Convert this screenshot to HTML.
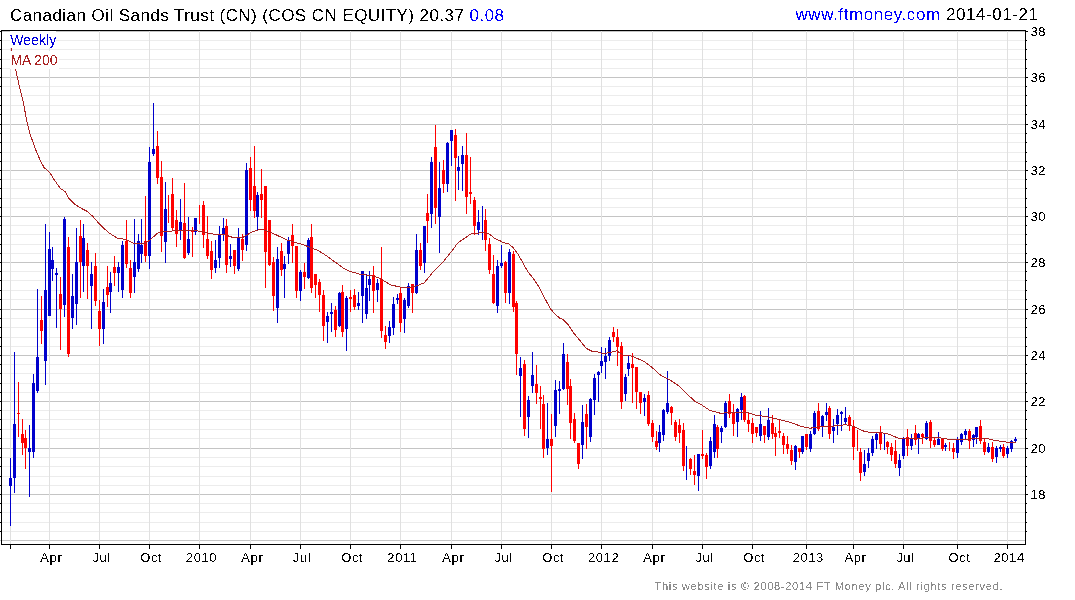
<!DOCTYPE html><html><head><meta charset="utf-8"><style>html,body{margin:0;padding:0;background:#fff;width:1075px;height:600px;overflow:hidden}svg{display:block}text{font-family:"Liberation Sans",Arial,sans-serif}</style></head><body>
<svg width="1075" height="600" viewBox="0 0 1075 600">
<defs><filter id="al" x="0" y="0" width="1" height="1"><feComponentTransfer><feFuncA type="discrete" tableValues="0 1"/></feComponentTransfer></filter></defs>
<rect width="1075" height="600" fill="#fff"/>
<g shape-rendering="crispEdges">
<rect x="2" y="40" width="1023" height="1" fill="#ececec"/>
<rect x="2" y="49" width="1023" height="1" fill="#ececec"/>
<rect x="2" y="59" width="1023" height="1" fill="#ececec"/>
<rect x="2" y="68" width="1023" height="1" fill="#ececec"/>
<rect x="2" y="86" width="1023" height="1" fill="#ececec"/>
<rect x="2" y="95" width="1023" height="1" fill="#ececec"/>
<rect x="2" y="105" width="1023" height="1" fill="#ececec"/>
<rect x="2" y="114" width="1023" height="1" fill="#ececec"/>
<rect x="2" y="133" width="1023" height="1" fill="#ececec"/>
<rect x="2" y="142" width="1023" height="1" fill="#ececec"/>
<rect x="2" y="152" width="1023" height="1" fill="#ececec"/>
<rect x="2" y="161" width="1023" height="1" fill="#ececec"/>
<rect x="2" y="179" width="1023" height="1" fill="#ececec"/>
<rect x="2" y="188" width="1023" height="1" fill="#ececec"/>
<rect x="2" y="198" width="1023" height="1" fill="#ececec"/>
<rect x="2" y="207" width="1023" height="1" fill="#ececec"/>
<rect x="2" y="225" width="1023" height="1" fill="#ececec"/>
<rect x="2" y="234" width="1023" height="1" fill="#ececec"/>
<rect x="2" y="244" width="1023" height="1" fill="#ececec"/>
<rect x="2" y="253" width="1023" height="1" fill="#ececec"/>
<rect x="2" y="271" width="1023" height="1" fill="#ececec"/>
<rect x="2" y="280" width="1023" height="1" fill="#ececec"/>
<rect x="2" y="290" width="1023" height="1" fill="#ececec"/>
<rect x="2" y="299" width="1023" height="1" fill="#ececec"/>
<rect x="2" y="318" width="1023" height="1" fill="#ececec"/>
<rect x="2" y="327" width="1023" height="1" fill="#ececec"/>
<rect x="2" y="337" width="1023" height="1" fill="#ececec"/>
<rect x="2" y="346" width="1023" height="1" fill="#ececec"/>
<rect x="2" y="364" width="1023" height="1" fill="#ececec"/>
<rect x="2" y="373" width="1023" height="1" fill="#ececec"/>
<rect x="2" y="383" width="1023" height="1" fill="#ececec"/>
<rect x="2" y="392" width="1023" height="1" fill="#ececec"/>
<rect x="2" y="410" width="1023" height="1" fill="#ececec"/>
<rect x="2" y="419" width="1023" height="1" fill="#ececec"/>
<rect x="2" y="429" width="1023" height="1" fill="#ececec"/>
<rect x="2" y="438" width="1023" height="1" fill="#ececec"/>
<rect x="2" y="457" width="1023" height="1" fill="#ececec"/>
<rect x="2" y="466" width="1023" height="1" fill="#ececec"/>
<rect x="2" y="476" width="1023" height="1" fill="#ececec"/>
<rect x="2" y="485" width="1023" height="1" fill="#ececec"/>
<rect x="2" y="503" width="1023" height="1" fill="#ececec"/>
<rect x="2" y="512" width="1023" height="1" fill="#ececec"/>
<rect x="2" y="522" width="1023" height="1" fill="#ececec"/>
<rect x="2" y="531" width="1023" height="1" fill="#ececec"/>
<rect x="2" y="31" width="1023" height="1" fill="#c4c4c4"/>
<rect x="2" y="77" width="1023" height="1" fill="#c4c4c4"/>
<rect x="2" y="124" width="1023" height="1" fill="#c4c4c4"/>
<rect x="2" y="170" width="1023" height="1" fill="#c4c4c4"/>
<rect x="2" y="216" width="1023" height="1" fill="#c4c4c4"/>
<rect x="2" y="262" width="1023" height="1" fill="#c4c4c4"/>
<rect x="2" y="309" width="1023" height="1" fill="#c4c4c4"/>
<rect x="2" y="355" width="1023" height="1" fill="#c4c4c4"/>
<rect x="2" y="401" width="1023" height="1" fill="#c4c4c4"/>
<rect x="2" y="448" width="1023" height="1" fill="#c4c4c4"/>
<rect x="2" y="494" width="1023" height="1" fill="#c4c4c4"/>
<rect x="2" y="540" width="1023" height="1" fill="#c4c4c4"/>
<rect x="10" y="31" width="1" height="513" fill="#e0e0e0"/>
<rect x="49" y="31" width="1" height="513" fill="#e0e0e0"/>
<rect x="99" y="31" width="1" height="513" fill="#e0e0e0"/>
<rect x="149" y="31" width="1" height="513" fill="#e0e0e0"/>
<rect x="199" y="31" width="1" height="513" fill="#e0e0e0"/>
<rect x="250" y="31" width="1" height="513" fill="#e0e0e0"/>
<rect x="300" y="31" width="1" height="513" fill="#e0e0e0"/>
<rect x="350" y="31" width="1" height="513" fill="#e0e0e0"/>
<rect x="400" y="31" width="1" height="513" fill="#e0e0e0"/>
<rect x="451" y="31" width="1" height="513" fill="#e0e0e0"/>
<rect x="501" y="31" width="1" height="513" fill="#e0e0e0"/>
<rect x="551" y="31" width="1" height="513" fill="#e0e0e0"/>
<rect x="601" y="31" width="1" height="513" fill="#e0e0e0"/>
<rect x="652" y="31" width="1" height="513" fill="#e0e0e0"/>
<rect x="702" y="31" width="1" height="513" fill="#e0e0e0"/>
<rect x="752" y="31" width="1" height="513" fill="#e0e0e0"/>
<rect x="806" y="31" width="1" height="513" fill="#e0e0e0"/>
<rect x="853" y="31" width="1" height="513" fill="#e0e0e0"/>
<rect x="903" y="31" width="1" height="513" fill="#e0e0e0"/>
<rect x="957" y="31" width="1" height="513" fill="#e0e0e0"/>
<rect x="1007" y="31" width="1" height="513" fill="#e0e0e0"/>
</g>
<g shape-rendering="crispEdges">
<rect x="10" y="458" width="1" height="68" fill="#0000cc"/>
<rect x="9" y="478" width="3" height="8" fill="#0000cc"/>
<rect x="14" y="352" width="1" height="141" fill="#0000cc"/>
<rect x="13" y="424" width="3" height="54" fill="#0000cc"/>
<rect x="18" y="382" width="1" height="55" fill="#ff0000"/>
<rect x="17" y="413" width="3" height="1" fill="#ff0000"/>
<rect x="22" y="419" width="1" height="36" fill="#ff0000"/>
<rect x="21" y="434" width="3" height="9" fill="#ff0000"/>
<rect x="25" y="430" width="1" height="39" fill="#ff0000"/>
<rect x="24" y="438" width="3" height="10" fill="#ff0000"/>
<rect x="29" y="425" width="1" height="72" fill="#0000cc"/>
<rect x="28" y="448" width="3" height="4" fill="#0000cc"/>
<rect x="33" y="374" width="1" height="84" fill="#0000cc"/>
<rect x="32" y="383" width="3" height="69" fill="#0000cc"/>
<rect x="37" y="289" width="1" height="104" fill="#0000cc"/>
<rect x="36" y="357" width="3" height="34" fill="#0000cc"/>
<rect x="41" y="296" width="1" height="48" fill="#ff0000"/>
<rect x="40" y="320" width="3" height="11" fill="#ff0000"/>
<rect x="45" y="224" width="1" height="161" fill="#0000cc"/>
<rect x="44" y="290" width="3" height="71" fill="#0000cc"/>
<rect x="49" y="232" width="1" height="84" fill="#0000cc"/>
<rect x="48" y="249" width="3" height="67" fill="#0000cc"/>
<rect x="52" y="247" width="1" height="34" fill="#0000cc"/>
<rect x="51" y="260" width="3" height="9" fill="#0000cc"/>
<rect x="56" y="268" width="1" height="60" fill="#0000cc"/>
<rect x="55" y="273" width="3" height="2" fill="#0000cc"/>
<rect x="60" y="277" width="1" height="73" fill="#ff0000"/>
<rect x="59" y="294" width="3" height="15" fill="#ff0000"/>
<rect x="64" y="217" width="1" height="100" fill="#0000cc"/>
<rect x="63" y="219" width="3" height="86" fill="#0000cc"/>
<rect x="68" y="237" width="1" height="120" fill="#ff0000"/>
<rect x="67" y="247" width="3" height="107" fill="#ff0000"/>
<rect x="72" y="274" width="1" height="55" fill="#0000cc"/>
<rect x="71" y="296" width="3" height="22" fill="#0000cc"/>
<rect x="76" y="228" width="1" height="97" fill="#0000cc"/>
<rect x="75" y="262" width="3" height="42" fill="#0000cc"/>
<rect x="80" y="220" width="1" height="78" fill="#ff0000"/>
<rect x="79" y="236" width="3" height="26" fill="#ff0000"/>
<rect x="83" y="224" width="1" height="68" fill="#0000cc"/>
<rect x="82" y="238" width="3" height="28" fill="#0000cc"/>
<rect x="87" y="243" width="1" height="56" fill="#ff0000"/>
<rect x="86" y="250" width="3" height="16" fill="#ff0000"/>
<rect x="91" y="262" width="1" height="67" fill="#0000cc"/>
<rect x="90" y="274" width="3" height="12" fill="#0000cc"/>
<rect x="95" y="253" width="1" height="53" fill="#ff0000"/>
<rect x="94" y="266" width="3" height="35" fill="#ff0000"/>
<rect x="99" y="300" width="1" height="46" fill="#ff0000"/>
<rect x="98" y="311" width="3" height="18" fill="#ff0000"/>
<rect x="103" y="289" width="1" height="55" fill="#0000cc"/>
<rect x="102" y="302" width="3" height="27" fill="#0000cc"/>
<rect x="107" y="266" width="1" height="41" fill="#ff0000"/>
<rect x="106" y="287" width="3" height="8" fill="#ff0000"/>
<rect x="110" y="272" width="1" height="41" fill="#0000cc"/>
<rect x="109" y="283" width="3" height="9" fill="#0000cc"/>
<rect x="114" y="256" width="1" height="30" fill="#ff0000"/>
<rect x="113" y="267" width="3" height="6" fill="#ff0000"/>
<rect x="118" y="262" width="1" height="30" fill="#0000cc"/>
<rect x="117" y="267" width="3" height="6" fill="#0000cc"/>
<rect x="122" y="241" width="1" height="57" fill="#0000cc"/>
<rect x="121" y="245" width="3" height="45" fill="#0000cc"/>
<rect x="126" y="220" width="1" height="48" fill="#ff0000"/>
<rect x="125" y="241" width="3" height="23" fill="#ff0000"/>
<rect x="130" y="260" width="1" height="38" fill="#ff0000"/>
<rect x="129" y="268" width="3" height="25" fill="#ff0000"/>
<rect x="134" y="219" width="1" height="74" fill="#0000cc"/>
<rect x="133" y="262" width="3" height="15" fill="#0000cc"/>
<rect x="138" y="234" width="1" height="38" fill="#0000cc"/>
<rect x="137" y="241" width="3" height="28" fill="#0000cc"/>
<rect x="141" y="219" width="1" height="44" fill="#0000cc"/>
<rect x="140" y="245" width="3" height="9" fill="#0000cc"/>
<rect x="145" y="196" width="1" height="66" fill="#ff0000"/>
<rect x="144" y="241" width="3" height="15" fill="#ff0000"/>
<rect x="149" y="147" width="1" height="122" fill="#0000cc"/>
<rect x="148" y="162" width="3" height="94" fill="#0000cc"/>
<rect x="153" y="103" width="1" height="53" fill="#0000cc"/>
<rect x="152" y="149" width="3" height="5" fill="#0000cc"/>
<rect x="157" y="131" width="1" height="53" fill="#ff0000"/>
<rect x="156" y="146" width="3" height="32" fill="#ff0000"/>
<rect x="161" y="161" width="1" height="91" fill="#ff0000"/>
<rect x="160" y="177" width="3" height="59" fill="#ff0000"/>
<rect x="165" y="182" width="1" height="81" fill="#0000cc"/>
<rect x="164" y="209" width="3" height="33" fill="#0000cc"/>
<rect x="168" y="195" width="1" height="28" fill="#ff0000"/>
<rect x="172" y="178" width="1" height="53" fill="#ff0000"/>
<rect x="171" y="194" width="3" height="34" fill="#ff0000"/>
<rect x="176" y="210" width="1" height="37" fill="#ff0000"/>
<rect x="175" y="220" width="3" height="14" fill="#ff0000"/>
<rect x="180" y="199" width="1" height="41" fill="#0000cc"/>
<rect x="179" y="222" width="3" height="8" fill="#0000cc"/>
<rect x="184" y="183" width="1" height="76" fill="#ff0000"/>
<rect x="183" y="223" width="3" height="35" fill="#ff0000"/>
<rect x="188" y="217" width="1" height="38" fill="#0000cc"/>
<rect x="187" y="239" width="3" height="14" fill="#0000cc"/>
<rect x="192" y="227" width="1" height="30" fill="#ff0000"/>
<rect x="191" y="230" width="3" height="2" fill="#ff0000"/>
<rect x="195" y="218" width="1" height="17" fill="#0000cc"/>
<rect x="194" y="218" width="3" height="14" fill="#0000cc"/>
<rect x="199" y="205" width="1" height="19" fill="#ff0000"/>
<rect x="203" y="201" width="1" height="47" fill="#ff0000"/>
<rect x="202" y="205" width="3" height="30" fill="#ff0000"/>
<rect x="207" y="216" width="1" height="43" fill="#ff0000"/>
<rect x="206" y="239" width="3" height="17" fill="#ff0000"/>
<rect x="211" y="241" width="1" height="38" fill="#ff0000"/>
<rect x="210" y="251" width="3" height="19" fill="#ff0000"/>
<rect x="215" y="240" width="1" height="33" fill="#0000cc"/>
<rect x="214" y="260" width="3" height="8" fill="#0000cc"/>
<rect x="219" y="226" width="1" height="42" fill="#0000cc"/>
<rect x="218" y="235" width="3" height="23" fill="#0000cc"/>
<rect x="223" y="218" width="1" height="23" fill="#0000cc"/>
<rect x="222" y="228" width="3" height="7" fill="#0000cc"/>
<rect x="226" y="219" width="1" height="54" fill="#ff0000"/>
<rect x="225" y="226" width="3" height="39" fill="#ff0000"/>
<rect x="230" y="244" width="1" height="23" fill="#0000cc"/>
<rect x="229" y="256" width="3" height="3" fill="#0000cc"/>
<rect x="234" y="250" width="1" height="24" fill="#ff0000"/>
<rect x="233" y="250" width="3" height="16" fill="#ff0000"/>
<rect x="238" y="228" width="1" height="43" fill="#0000cc"/>
<rect x="237" y="237" width="3" height="32" fill="#0000cc"/>
<rect x="242" y="234" width="1" height="27" fill="#ff0000"/>
<rect x="241" y="239" width="3" height="11" fill="#ff0000"/>
<rect x="246" y="163" width="1" height="88" fill="#0000cc"/>
<rect x="245" y="170" width="3" height="75" fill="#0000cc"/>
<rect x="250" y="157" width="1" height="54" fill="#ff0000"/>
<rect x="249" y="168" width="3" height="32" fill="#ff0000"/>
<rect x="254" y="146" width="1" height="72" fill="#ff0000"/>
<rect x="253" y="186" width="3" height="25" fill="#ff0000"/>
<rect x="257" y="192" width="1" height="38" fill="#0000cc"/>
<rect x="256" y="195" width="3" height="22" fill="#0000cc"/>
<rect x="261" y="169" width="1" height="49" fill="#ff0000"/>
<rect x="260" y="194" width="3" height="6" fill="#ff0000"/>
<rect x="265" y="186" width="1" height="102" fill="#ff0000"/>
<rect x="264" y="186" width="3" height="66" fill="#ff0000"/>
<rect x="269" y="220" width="1" height="46" fill="#ff0000"/>
<rect x="268" y="220" width="3" height="45" fill="#ff0000"/>
<rect x="273" y="257" width="1" height="54" fill="#ff0000"/>
<rect x="272" y="262" width="3" height="34" fill="#ff0000"/>
<rect x="277" y="247" width="1" height="76" fill="#0000cc"/>
<rect x="276" y="259" width="3" height="49" fill="#0000cc"/>
<rect x="281" y="243" width="1" height="33" fill="#ff0000"/>
<rect x="280" y="251" width="3" height="19" fill="#ff0000"/>
<rect x="284" y="256" width="1" height="42" fill="#0000cc"/>
<rect x="283" y="264" width="3" height="5" fill="#0000cc"/>
<rect x="288" y="237" width="1" height="27" fill="#0000cc"/>
<rect x="287" y="241" width="3" height="13" fill="#0000cc"/>
<rect x="292" y="224" width="1" height="39" fill="#ff0000"/>
<rect x="291" y="235" width="3" height="11" fill="#ff0000"/>
<rect x="296" y="246" width="1" height="52" fill="#ff0000"/>
<rect x="295" y="246" width="3" height="45" fill="#ff0000"/>
<rect x="300" y="270" width="1" height="31" fill="#0000cc"/>
<rect x="299" y="272" width="3" height="19" fill="#0000cc"/>
<rect x="304" y="263" width="1" height="26" fill="#ff0000"/>
<rect x="303" y="272" width="3" height="5" fill="#ff0000"/>
<rect x="308" y="238" width="1" height="41" fill="#0000cc"/>
<rect x="307" y="240" width="3" height="38" fill="#0000cc"/>
<rect x="311" y="224" width="1" height="69" fill="#ff0000"/>
<rect x="310" y="237" width="3" height="51" fill="#ff0000"/>
<rect x="315" y="274" width="1" height="24" fill="#ff0000"/>
<rect x="314" y="274" width="3" height="11" fill="#ff0000"/>
<rect x="319" y="279" width="1" height="33" fill="#ff0000"/>
<rect x="318" y="282" width="3" height="13" fill="#ff0000"/>
<rect x="323" y="290" width="1" height="51" fill="#ff0000"/>
<rect x="322" y="295" width="3" height="31" fill="#ff0000"/>
<rect x="327" y="312" width="1" height="31" fill="#0000cc"/>
<rect x="326" y="316" width="3" height="6" fill="#0000cc"/>
<rect x="331" y="303" width="1" height="29" fill="#0000cc"/>
<rect x="330" y="312" width="3" height="2" fill="#0000cc"/>
<rect x="335" y="306" width="1" height="31" fill="#ff0000"/>
<rect x="334" y="310" width="3" height="20" fill="#ff0000"/>
<rect x="339" y="292" width="1" height="35" fill="#0000cc"/>
<rect x="338" y="293" width="3" height="33" fill="#0000cc"/>
<rect x="342" y="285" width="1" height="52" fill="#ff0000"/>
<rect x="341" y="292" width="3" height="40" fill="#ff0000"/>
<rect x="346" y="296" width="1" height="55" fill="#0000cc"/>
<rect x="345" y="298" width="3" height="31" fill="#0000cc"/>
<rect x="350" y="290" width="1" height="22" fill="#ff0000"/>
<rect x="349" y="297" width="3" height="2" fill="#ff0000"/>
<rect x="354" y="289" width="1" height="21" fill="#ff0000"/>
<rect x="353" y="295" width="3" height="12" fill="#ff0000"/>
<rect x="358" y="292" width="1" height="18" fill="#0000cc"/>
<rect x="357" y="303" width="3" height="3" fill="#0000cc"/>
<rect x="362" y="271" width="1" height="52" fill="#0000cc"/>
<rect x="361" y="271" width="3" height="25" fill="#0000cc"/>
<rect x="366" y="274" width="1" height="45" fill="#0000cc"/>
<rect x="365" y="288" width="3" height="26" fill="#0000cc"/>
<rect x="369" y="271" width="1" height="30" fill="#0000cc"/>
<rect x="368" y="279" width="3" height="6" fill="#0000cc"/>
<rect x="373" y="266" width="1" height="47" fill="#ff0000"/>
<rect x="372" y="275" width="3" height="16" fill="#ff0000"/>
<rect x="377" y="279" width="1" height="23" fill="#0000cc"/>
<rect x="376" y="283" width="3" height="7" fill="#0000cc"/>
<rect x="381" y="247" width="1" height="91" fill="#ff0000"/>
<rect x="380" y="279" width="3" height="52" fill="#ff0000"/>
<rect x="385" y="326" width="1" height="23" fill="#ff0000"/>
<rect x="384" y="335" width="3" height="7" fill="#ff0000"/>
<rect x="389" y="321" width="1" height="22" fill="#0000cc"/>
<rect x="388" y="327" width="3" height="9" fill="#0000cc"/>
<rect x="393" y="297" width="1" height="38" fill="#0000cc"/>
<rect x="392" y="304" width="3" height="24" fill="#0000cc"/>
<rect x="397" y="294" width="1" height="10" fill="#0000cc"/>
<rect x="396" y="298" width="3" height="2" fill="#0000cc"/>
<rect x="400" y="287" width="1" height="45" fill="#ff0000"/>
<rect x="399" y="293" width="3" height="30" fill="#ff0000"/>
<rect x="404" y="298" width="1" height="35" fill="#0000cc"/>
<rect x="403" y="300" width="3" height="19" fill="#0000cc"/>
<rect x="408" y="283" width="1" height="25" fill="#0000cc"/>
<rect x="407" y="286" width="3" height="20" fill="#0000cc"/>
<rect x="412" y="284" width="1" height="29" fill="#ff0000"/>
<rect x="411" y="284" width="3" height="9" fill="#ff0000"/>
<rect x="416" y="234" width="1" height="60" fill="#0000cc"/>
<rect x="415" y="250" width="3" height="43" fill="#0000cc"/>
<rect x="420" y="243" width="1" height="27" fill="#ff0000"/>
<rect x="419" y="250" width="3" height="16" fill="#ff0000"/>
<rect x="424" y="226" width="1" height="47" fill="#0000cc"/>
<rect x="423" y="226" width="3" height="37" fill="#0000cc"/>
<rect x="427" y="194" width="1" height="49" fill="#ff0000"/>
<rect x="426" y="213" width="3" height="8" fill="#ff0000"/>
<rect x="431" y="157" width="1" height="71" fill="#0000cc"/>
<rect x="430" y="162" width="3" height="52" fill="#0000cc"/>
<rect x="435" y="125" width="1" height="99" fill="#ff0000"/>
<rect x="434" y="147" width="3" height="61" fill="#ff0000"/>
<rect x="439" y="162" width="1" height="91" fill="#0000cc"/>
<rect x="438" y="188" width="3" height="29" fill="#0000cc"/>
<rect x="443" y="160" width="1" height="33" fill="#ff0000"/>
<rect x="442" y="170" width="3" height="14" fill="#ff0000"/>
<rect x="447" y="142" width="1" height="50" fill="#0000cc"/>
<rect x="446" y="143" width="3" height="41" fill="#0000cc"/>
<rect x="451" y="130" width="1" height="36" fill="#0000cc"/>
<rect x="450" y="130" width="3" height="11" fill="#0000cc"/>
<rect x="455" y="129" width="1" height="72" fill="#ff0000"/>
<rect x="454" y="135" width="3" height="23" fill="#ff0000"/>
<rect x="458" y="156" width="1" height="34" fill="#0000cc"/>
<rect x="457" y="167" width="3" height="4" fill="#0000cc"/>
<rect x="462" y="146" width="1" height="45" fill="#0000cc"/>
<rect x="461" y="155" width="3" height="9" fill="#0000cc"/>
<rect x="466" y="133" width="1" height="81" fill="#ff0000"/>
<rect x="465" y="155" width="3" height="42" fill="#ff0000"/>
<rect x="470" y="157" width="1" height="47" fill="#ff0000"/>
<rect x="469" y="192" width="3" height="2" fill="#ff0000"/>
<rect x="474" y="197" width="1" height="38" fill="#ff0000"/>
<rect x="473" y="200" width="3" height="26" fill="#ff0000"/>
<rect x="478" y="210" width="1" height="25" fill="#0000cc"/>
<rect x="477" y="222" width="3" height="8" fill="#0000cc"/>
<rect x="482" y="206" width="1" height="34" fill="#0000cc"/>
<rect x="485" y="209" width="1" height="42" fill="#ff0000"/>
<rect x="484" y="220" width="3" height="20" fill="#ff0000"/>
<rect x="489" y="238" width="1" height="36" fill="#ff0000"/>
<rect x="488" y="244" width="3" height="26" fill="#ff0000"/>
<rect x="493" y="255" width="1" height="49" fill="#ff0000"/>
<rect x="492" y="274" width="3" height="29" fill="#ff0000"/>
<rect x="497" y="260" width="1" height="53" fill="#0000cc"/>
<rect x="496" y="266" width="3" height="40" fill="#0000cc"/>
<rect x="501" y="245" width="1" height="23" fill="#0000cc"/>
<rect x="500" y="263" width="3" height="3" fill="#0000cc"/>
<rect x="505" y="261" width="1" height="42" fill="#ff0000"/>
<rect x="504" y="262" width="3" height="31" fill="#ff0000"/>
<rect x="509" y="249" width="1" height="55" fill="#0000cc"/>
<rect x="508" y="252" width="3" height="41" fill="#0000cc"/>
<rect x="513" y="251" width="1" height="61" fill="#ff0000"/>
<rect x="512" y="254" width="3" height="53" fill="#ff0000"/>
<rect x="516" y="301" width="1" height="74" fill="#ff0000"/>
<rect x="515" y="303" width="3" height="51" fill="#ff0000"/>
<rect x="520" y="357" width="1" height="60" fill="#0000cc"/>
<rect x="519" y="368" width="3" height="8" fill="#0000cc"/>
<rect x="524" y="360" width="1" height="76" fill="#ff0000"/>
<rect x="523" y="364" width="3" height="65" fill="#ff0000"/>
<rect x="528" y="396" width="1" height="42" fill="#0000cc"/>
<rect x="527" y="400" width="3" height="17" fill="#0000cc"/>
<rect x="532" y="352" width="1" height="41" fill="#0000cc"/>
<rect x="531" y="375" width="3" height="11" fill="#0000cc"/>
<rect x="536" y="365" width="1" height="39" fill="#ff0000"/>
<rect x="535" y="384" width="3" height="9" fill="#ff0000"/>
<rect x="540" y="386" width="1" height="43" fill="#ff0000"/>
<rect x="539" y="397" width="3" height="2" fill="#ff0000"/>
<rect x="543" y="395" width="1" height="63" fill="#ff0000"/>
<rect x="542" y="404" width="3" height="45" fill="#ff0000"/>
<rect x="547" y="403" width="1" height="52" fill="#0000cc"/>
<rect x="546" y="439" width="3" height="9" fill="#0000cc"/>
<rect x="551" y="414" width="1" height="78" fill="#ff0000"/>
<rect x="550" y="439" width="3" height="7" fill="#ff0000"/>
<rect x="555" y="380" width="1" height="57" fill="#0000cc"/>
<rect x="554" y="390" width="3" height="36" fill="#0000cc"/>
<rect x="559" y="381" width="1" height="33" fill="#0000cc"/>
<rect x="558" y="389" width="3" height="2" fill="#0000cc"/>
<rect x="563" y="343" width="1" height="47" fill="#0000cc"/>
<rect x="562" y="354" width="3" height="35" fill="#0000cc"/>
<rect x="567" y="354" width="1" height="51" fill="#ff0000"/>
<rect x="566" y="362" width="3" height="27" fill="#ff0000"/>
<rect x="570" y="379" width="1" height="60" fill="#ff0000"/>
<rect x="569" y="386" width="3" height="37" fill="#ff0000"/>
<rect x="574" y="413" width="1" height="30" fill="#ff0000"/>
<rect x="573" y="419" width="3" height="22" fill="#ff0000"/>
<rect x="578" y="443" width="1" height="26" fill="#ff0000"/>
<rect x="577" y="443" width="3" height="21" fill="#ff0000"/>
<rect x="582" y="405" width="1" height="54" fill="#0000cc"/>
<rect x="581" y="422" width="3" height="23" fill="#0000cc"/>
<rect x="586" y="404" width="1" height="45" fill="#ff0000"/>
<rect x="585" y="414" width="3" height="13" fill="#ff0000"/>
<rect x="590" y="398" width="1" height="44" fill="#0000cc"/>
<rect x="589" y="399" width="3" height="38" fill="#0000cc"/>
<rect x="594" y="374" width="1" height="41" fill="#0000cc"/>
<rect x="593" y="378" width="3" height="22" fill="#0000cc"/>
<rect x="598" y="371" width="1" height="31" fill="#0000cc"/>
<rect x="597" y="372" width="3" height="3" fill="#0000cc"/>
<rect x="601" y="347" width="1" height="26" fill="#0000cc"/>
<rect x="600" y="361" width="3" height="5" fill="#0000cc"/>
<rect x="605" y="348" width="1" height="31" fill="#0000cc"/>
<rect x="604" y="356" width="3" height="6" fill="#0000cc"/>
<rect x="609" y="337" width="1" height="24" fill="#0000cc"/>
<rect x="608" y="340" width="3" height="16" fill="#0000cc"/>
<rect x="613" y="327" width="1" height="15" fill="#ff0000"/>
<rect x="612" y="332" width="3" height="5" fill="#ff0000"/>
<rect x="617" y="329" width="1" height="37" fill="#ff0000"/>
<rect x="616" y="337" width="3" height="10" fill="#ff0000"/>
<rect x="621" y="342" width="1" height="67" fill="#ff0000"/>
<rect x="620" y="346" width="3" height="56" fill="#ff0000"/>
<rect x="625" y="374" width="1" height="27" fill="#0000cc"/>
<rect x="624" y="377" width="3" height="17" fill="#0000cc"/>
<rect x="628" y="356" width="1" height="20" fill="#0000cc"/>
<rect x="627" y="363" width="3" height="6" fill="#0000cc"/>
<rect x="632" y="353" width="1" height="50" fill="#ff0000"/>
<rect x="631" y="364" width="3" height="4" fill="#ff0000"/>
<rect x="636" y="367" width="1" height="42" fill="#ff0000"/>
<rect x="635" y="367" width="3" height="25" fill="#ff0000"/>
<rect x="640" y="392" width="1" height="22" fill="#ff0000"/>
<rect x="639" y="392" width="3" height="11" fill="#ff0000"/>
<rect x="644" y="394" width="1" height="22" fill="#0000cc"/>
<rect x="643" y="398" width="3" height="4" fill="#0000cc"/>
<rect x="648" y="391" width="1" height="35" fill="#ff0000"/>
<rect x="647" y="395" width="3" height="29" fill="#ff0000"/>
<rect x="652" y="420" width="1" height="22" fill="#ff0000"/>
<rect x="651" y="423" width="3" height="14" fill="#ff0000"/>
<rect x="656" y="431" width="1" height="19" fill="#ff0000"/>
<rect x="655" y="441" width="3" height="6" fill="#ff0000"/>
<rect x="659" y="425" width="1" height="27" fill="#0000cc"/>
<rect x="658" y="432" width="3" height="11" fill="#0000cc"/>
<rect x="663" y="409" width="1" height="32" fill="#0000cc"/>
<rect x="662" y="410" width="3" height="25" fill="#0000cc"/>
<rect x="667" y="371" width="1" height="43" fill="#0000cc"/>
<rect x="666" y="403" width="3" height="9" fill="#0000cc"/>
<rect x="671" y="406" width="1" height="19" fill="#ff0000"/>
<rect x="670" y="407" width="3" height="6" fill="#ff0000"/>
<rect x="675" y="420" width="1" height="21" fill="#ff0000"/>
<rect x="674" y="422" width="3" height="15" fill="#ff0000"/>
<rect x="679" y="419" width="1" height="24" fill="#ff0000"/>
<rect x="678" y="425" width="3" height="8" fill="#ff0000"/>
<rect x="683" y="423" width="1" height="48" fill="#ff0000"/>
<rect x="682" y="430" width="3" height="36" fill="#ff0000"/>
<rect x="686" y="446" width="1" height="34" fill="#0000cc"/>
<rect x="690" y="458" width="1" height="17" fill="#ff0000"/>
<rect x="689" y="459" width="3" height="10" fill="#ff0000"/>
<rect x="694" y="455" width="1" height="30" fill="#ff0000"/>
<rect x="693" y="471" width="3" height="4" fill="#ff0000"/>
<rect x="698" y="454" width="1" height="37" fill="#0000cc"/>
<rect x="697" y="454" width="3" height="22" fill="#0000cc"/>
<rect x="702" y="430" width="1" height="29" fill="#ff0000"/>
<rect x="701" y="454" width="3" height="2" fill="#ff0000"/>
<rect x="706" y="453" width="1" height="26" fill="#ff0000"/>
<rect x="705" y="455" width="3" height="12" fill="#ff0000"/>
<rect x="710" y="437" width="1" height="32" fill="#0000cc"/>
<rect x="709" y="441" width="3" height="25" fill="#0000cc"/>
<rect x="714" y="415" width="1" height="43" fill="#0000cc"/>
<rect x="713" y="424" width="3" height="28" fill="#0000cc"/>
<rect x="717" y="425" width="1" height="33" fill="#ff0000"/>
<rect x="716" y="427" width="3" height="22" fill="#ff0000"/>
<rect x="721" y="426" width="1" height="17" fill="#0000cc"/>
<rect x="720" y="428" width="3" height="4" fill="#0000cc"/>
<rect x="725" y="401" width="1" height="27" fill="#0000cc"/>
<rect x="724" y="403" width="3" height="24" fill="#0000cc"/>
<rect x="729" y="394" width="1" height="24" fill="#ff0000"/>
<rect x="728" y="401" width="3" height="13" fill="#ff0000"/>
<rect x="733" y="404" width="1" height="32" fill="#ff0000"/>
<rect x="732" y="413" width="3" height="11" fill="#ff0000"/>
<rect x="737" y="408" width="1" height="29" fill="#0000cc"/>
<rect x="736" y="409" width="3" height="13" fill="#0000cc"/>
<rect x="741" y="393" width="1" height="27" fill="#0000cc"/>
<rect x="740" y="397" width="3" height="13" fill="#0000cc"/>
<rect x="744" y="395" width="1" height="27" fill="#ff0000"/>
<rect x="743" y="396" width="3" height="24" fill="#ff0000"/>
<rect x="748" y="413" width="1" height="19" fill="#ff0000"/>
<rect x="747" y="420" width="3" height="4" fill="#ff0000"/>
<rect x="752" y="418" width="1" height="25" fill="#ff0000"/>
<rect x="751" y="423" width="3" height="11" fill="#ff0000"/>
<rect x="756" y="427" width="1" height="10" fill="#ff0000"/>
<rect x="755" y="427" width="3" height="6" fill="#ff0000"/>
<rect x="760" y="411" width="1" height="30" fill="#0000cc"/>
<rect x="759" y="424" width="3" height="12" fill="#0000cc"/>
<rect x="764" y="426" width="1" height="17" fill="#ff0000"/>
<rect x="763" y="426" width="3" height="9" fill="#ff0000"/>
<rect x="768" y="408" width="1" height="32" fill="#0000cc"/>
<rect x="767" y="420" width="3" height="17" fill="#0000cc"/>
<rect x="772" y="415" width="1" height="24" fill="#ff0000"/>
<rect x="771" y="423" width="3" height="11" fill="#ff0000"/>
<rect x="775" y="427" width="1" height="29" fill="#ff0000"/>
<rect x="774" y="433" width="3" height="4" fill="#ff0000"/>
<rect x="779" y="420" width="1" height="18" fill="#ff0000"/>
<rect x="778" y="431" width="3" height="2" fill="#ff0000"/>
<rect x="783" y="433" width="1" height="21" fill="#ff0000"/>
<rect x="782" y="436" width="3" height="9" fill="#ff0000"/>
<rect x="787" y="436" width="1" height="18" fill="#ff0000"/>
<rect x="786" y="444" width="3" height="5" fill="#ff0000"/>
<rect x="791" y="445" width="1" height="20" fill="#ff0000"/>
<rect x="790" y="450" width="3" height="11" fill="#ff0000"/>
<rect x="795" y="445" width="1" height="25" fill="#0000cc"/>
<rect x="794" y="446" width="3" height="16" fill="#0000cc"/>
<rect x="799" y="448" width="1" height="10" fill="#ff0000"/>
<rect x="798" y="448" width="3" height="4" fill="#ff0000"/>
<rect x="802" y="436" width="1" height="18" fill="#0000cc"/>
<rect x="801" y="436" width="3" height="16" fill="#0000cc"/>
<rect x="806" y="434" width="1" height="16" fill="#ff0000"/>
<rect x="805" y="434" width="3" height="13" fill="#ff0000"/>
<rect x="810" y="431" width="1" height="21" fill="#0000cc"/>
<rect x="809" y="434" width="3" height="15" fill="#0000cc"/>
<rect x="814" y="411" width="1" height="24" fill="#0000cc"/>
<rect x="813" y="413" width="3" height="21" fill="#0000cc"/>
<rect x="818" y="403" width="1" height="28" fill="#ff0000"/>
<rect x="817" y="411" width="3" height="18" fill="#ff0000"/>
<rect x="822" y="415" width="1" height="22" fill="#0000cc"/>
<rect x="821" y="416" width="3" height="11" fill="#0000cc"/>
<rect x="826" y="403" width="1" height="18" fill="#0000cc"/>
<rect x="825" y="412" width="3" height="3" fill="#0000cc"/>
<rect x="829" y="406" width="1" height="33" fill="#ff0000"/>
<rect x="828" y="408" width="3" height="26" fill="#ff0000"/>
<rect x="833" y="419" width="1" height="24" fill="#0000cc"/>
<rect x="832" y="427" width="3" height="4" fill="#0000cc"/>
<rect x="837" y="409" width="1" height="26" fill="#0000cc"/>
<rect x="836" y="415" width="3" height="9" fill="#0000cc"/>
<rect x="841" y="411" width="1" height="20" fill="#0000cc"/>
<rect x="840" y="412" width="3" height="2" fill="#0000cc"/>
<rect x="845" y="407" width="1" height="17" fill="#0000cc"/>
<rect x="844" y="418" width="3" height="4" fill="#0000cc"/>
<rect x="849" y="415" width="1" height="16" fill="#ff0000"/>
<rect x="848" y="417" width="3" height="9" fill="#ff0000"/>
<rect x="853" y="420" width="1" height="40" fill="#ff0000"/>
<rect x="852" y="427" width="3" height="20" fill="#ff0000"/>
<rect x="857" y="430" width="1" height="21" fill="#ff0000"/>
<rect x="860" y="448" width="1" height="33" fill="#ff0000"/>
<rect x="859" y="452" width="3" height="21" fill="#ff0000"/>
<rect x="864" y="450" width="1" height="26" fill="#0000cc"/>
<rect x="863" y="464" width="3" height="8" fill="#0000cc"/>
<rect x="868" y="448" width="1" height="20" fill="#0000cc"/>
<rect x="867" y="453" width="3" height="8" fill="#0000cc"/>
<rect x="872" y="436" width="1" height="20" fill="#0000cc"/>
<rect x="871" y="439" width="3" height="14" fill="#0000cc"/>
<rect x="876" y="433" width="1" height="16" fill="#0000cc"/>
<rect x="875" y="434" width="3" height="6" fill="#0000cc"/>
<rect x="880" y="426" width="1" height="24" fill="#ff0000"/>
<rect x="879" y="433" width="3" height="11" fill="#ff0000"/>
<rect x="884" y="433" width="1" height="17" fill="#0000cc"/>
<rect x="887" y="441" width="1" height="13" fill="#ff0000"/>
<rect x="886" y="442" width="3" height="5" fill="#ff0000"/>
<rect x="891" y="443" width="1" height="18" fill="#ff0000"/>
<rect x="890" y="447" width="3" height="8" fill="#ff0000"/>
<rect x="895" y="440" width="1" height="28" fill="#ff0000"/>
<rect x="894" y="451" width="3" height="13" fill="#ff0000"/>
<rect x="899" y="454" width="1" height="22" fill="#0000cc"/>
<rect x="898" y="460" width="3" height="8" fill="#0000cc"/>
<rect x="903" y="437" width="1" height="22" fill="#0000cc"/>
<rect x="902" y="439" width="3" height="17" fill="#0000cc"/>
<rect x="907" y="429" width="1" height="27" fill="#ff0000"/>
<rect x="906" y="437" width="3" height="9" fill="#ff0000"/>
<rect x="911" y="434" width="1" height="16" fill="#0000cc"/>
<rect x="910" y="439" width="3" height="7" fill="#0000cc"/>
<rect x="915" y="425" width="1" height="20" fill="#ff0000"/>
<rect x="914" y="433" width="3" height="7" fill="#ff0000"/>
<rect x="918" y="433" width="1" height="21" fill="#0000cc"/>
<rect x="917" y="434" width="3" height="5" fill="#0000cc"/>
<rect x="922" y="433" width="1" height="11" fill="#ff0000"/>
<rect x="921" y="434" width="3" height="3" fill="#ff0000"/>
<rect x="926" y="421" width="1" height="19" fill="#0000cc"/>
<rect x="925" y="423" width="3" height="16" fill="#0000cc"/>
<rect x="930" y="420" width="1" height="28" fill="#ff0000"/>
<rect x="929" y="422" width="3" height="19" fill="#ff0000"/>
<rect x="934" y="438" width="1" height="9" fill="#ff0000"/>
<rect x="933" y="440" width="3" height="5" fill="#ff0000"/>
<rect x="938" y="432" width="1" height="13" fill="#0000cc"/>
<rect x="937" y="439" width="3" height="6" fill="#0000cc"/>
<rect x="942" y="438" width="1" height="13" fill="#ff0000"/>
<rect x="941" y="439" width="3" height="10" fill="#ff0000"/>
<rect x="945" y="443" width="1" height="8" fill="#0000cc"/>
<rect x="944" y="445" width="3" height="2" fill="#0000cc"/>
<rect x="949" y="442" width="1" height="9" fill="#ff0000"/>
<rect x="953" y="443" width="1" height="16" fill="#ff0000"/>
<rect x="952" y="448" width="3" height="4" fill="#ff0000"/>
<rect x="957" y="437" width="1" height="21" fill="#0000cc"/>
<rect x="956" y="440" width="3" height="13" fill="#0000cc"/>
<rect x="961" y="433" width="1" height="12" fill="#0000cc"/>
<rect x="960" y="434" width="3" height="8" fill="#0000cc"/>
<rect x="965" y="429" width="1" height="11" fill="#0000cc"/>
<rect x="964" y="431" width="3" height="4" fill="#0000cc"/>
<rect x="969" y="429" width="1" height="20" fill="#ff0000"/>
<rect x="968" y="431" width="3" height="10" fill="#ff0000"/>
<rect x="973" y="434" width="1" height="13" fill="#0000cc"/>
<rect x="972" y="435" width="3" height="5" fill="#0000cc"/>
<rect x="976" y="427" width="1" height="17" fill="#0000cc"/>
<rect x="975" y="427" width="3" height="10" fill="#0000cc"/>
<rect x="980" y="420" width="1" height="24" fill="#ff0000"/>
<rect x="979" y="426" width="3" height="15" fill="#ff0000"/>
<rect x="984" y="438" width="1" height="17" fill="#ff0000"/>
<rect x="983" y="442" width="3" height="10" fill="#ff0000"/>
<rect x="988" y="443" width="1" height="10" fill="#0000cc"/>
<rect x="987" y="447" width="3" height="5" fill="#0000cc"/>
<rect x="992" y="442" width="1" height="20" fill="#ff0000"/>
<rect x="991" y="447" width="3" height="12" fill="#ff0000"/>
<rect x="996" y="446" width="1" height="17" fill="#0000cc"/>
<rect x="995" y="448" width="3" height="9" fill="#0000cc"/>
<rect x="1000" y="445" width="1" height="7" fill="#0000cc"/>
<rect x="999" y="447" width="3" height="2" fill="#0000cc"/>
<rect x="1003" y="444" width="1" height="14" fill="#ff0000"/>
<rect x="1002" y="447" width="3" height="9" fill="#ff0000"/>
<rect x="1007" y="446" width="1" height="12" fill="#0000cc"/>
<rect x="1006" y="448" width="3" height="6" fill="#0000cc"/>
<rect x="1011" y="440" width="1" height="12" fill="#0000cc"/>
<rect x="1010" y="441" width="3" height="8" fill="#0000cc"/>
<rect x="1015" y="437" width="1" height="6" fill="#0000cc"/>
<rect x="1014" y="439" width="3" height="2" fill="#0000cc"/>
</g>
<g shape-rendering="crispEdges" fill="#000">
<rect x="1" y="30" width="1025" height="1"/>
<rect x="1" y="544" width="1025" height="1"/>
<rect x="1" y="30" width="1" height="515"/>
<rect x="1025" y="30" width="1" height="515"/>
<rect x="1026" y="31" width="2" height="1"/>
<rect x="0" y="31" width="1" height="1"/>
<rect x="1026" y="40" width="1" height="1"/>
<rect x="0" y="40" width="1" height="1"/>
<rect x="1026" y="49" width="1" height="1"/>
<rect x="0" y="49" width="1" height="1"/>
<rect x="1026" y="59" width="1" height="1"/>
<rect x="0" y="59" width="1" height="1"/>
<rect x="1026" y="68" width="1" height="1"/>
<rect x="0" y="68" width="1" height="1"/>
<rect x="1026" y="77" width="2" height="1"/>
<rect x="0" y="77" width="1" height="1"/>
<rect x="1026" y="86" width="1" height="1"/>
<rect x="0" y="86" width="1" height="1"/>
<rect x="1026" y="95" width="1" height="1"/>
<rect x="0" y="95" width="1" height="1"/>
<rect x="1026" y="105" width="1" height="1"/>
<rect x="0" y="105" width="1" height="1"/>
<rect x="1026" y="114" width="1" height="1"/>
<rect x="0" y="114" width="1" height="1"/>
<rect x="1026" y="124" width="2" height="1"/>
<rect x="0" y="124" width="1" height="1"/>
<rect x="1026" y="133" width="1" height="1"/>
<rect x="0" y="133" width="1" height="1"/>
<rect x="1026" y="142" width="1" height="1"/>
<rect x="0" y="142" width="1" height="1"/>
<rect x="1026" y="152" width="1" height="1"/>
<rect x="0" y="152" width="1" height="1"/>
<rect x="1026" y="161" width="1" height="1"/>
<rect x="0" y="161" width="1" height="1"/>
<rect x="1026" y="170" width="2" height="1"/>
<rect x="0" y="170" width="1" height="1"/>
<rect x="1026" y="179" width="1" height="1"/>
<rect x="0" y="179" width="1" height="1"/>
<rect x="1026" y="188" width="1" height="1"/>
<rect x="0" y="188" width="1" height="1"/>
<rect x="1026" y="198" width="1" height="1"/>
<rect x="0" y="198" width="1" height="1"/>
<rect x="1026" y="207" width="1" height="1"/>
<rect x="0" y="207" width="1" height="1"/>
<rect x="1026" y="216" width="2" height="1"/>
<rect x="0" y="216" width="1" height="1"/>
<rect x="1026" y="225" width="1" height="1"/>
<rect x="0" y="225" width="1" height="1"/>
<rect x="1026" y="234" width="1" height="1"/>
<rect x="0" y="234" width="1" height="1"/>
<rect x="1026" y="244" width="1" height="1"/>
<rect x="0" y="244" width="1" height="1"/>
<rect x="1026" y="253" width="1" height="1"/>
<rect x="0" y="253" width="1" height="1"/>
<rect x="1026" y="262" width="2" height="1"/>
<rect x="0" y="262" width="1" height="1"/>
<rect x="1026" y="271" width="1" height="1"/>
<rect x="0" y="271" width="1" height="1"/>
<rect x="1026" y="280" width="1" height="1"/>
<rect x="0" y="280" width="1" height="1"/>
<rect x="1026" y="290" width="1" height="1"/>
<rect x="0" y="290" width="1" height="1"/>
<rect x="1026" y="299" width="1" height="1"/>
<rect x="0" y="299" width="1" height="1"/>
<rect x="1026" y="309" width="2" height="1"/>
<rect x="0" y="309" width="1" height="1"/>
<rect x="1026" y="318" width="1" height="1"/>
<rect x="0" y="318" width="1" height="1"/>
<rect x="1026" y="327" width="1" height="1"/>
<rect x="0" y="327" width="1" height="1"/>
<rect x="1026" y="337" width="1" height="1"/>
<rect x="0" y="337" width="1" height="1"/>
<rect x="1026" y="346" width="1" height="1"/>
<rect x="0" y="346" width="1" height="1"/>
<rect x="1026" y="355" width="2" height="1"/>
<rect x="0" y="355" width="1" height="1"/>
<rect x="1026" y="364" width="1" height="1"/>
<rect x="0" y="364" width="1" height="1"/>
<rect x="1026" y="373" width="1" height="1"/>
<rect x="0" y="373" width="1" height="1"/>
<rect x="1026" y="383" width="1" height="1"/>
<rect x="0" y="383" width="1" height="1"/>
<rect x="1026" y="392" width="1" height="1"/>
<rect x="0" y="392" width="1" height="1"/>
<rect x="1026" y="401" width="2" height="1"/>
<rect x="0" y="401" width="1" height="1"/>
<rect x="1026" y="410" width="1" height="1"/>
<rect x="0" y="410" width="1" height="1"/>
<rect x="1026" y="419" width="1" height="1"/>
<rect x="0" y="419" width="1" height="1"/>
<rect x="1026" y="429" width="1" height="1"/>
<rect x="0" y="429" width="1" height="1"/>
<rect x="1026" y="438" width="1" height="1"/>
<rect x="0" y="438" width="1" height="1"/>
<rect x="1026" y="448" width="2" height="1"/>
<rect x="0" y="448" width="1" height="1"/>
<rect x="1026" y="457" width="1" height="1"/>
<rect x="0" y="457" width="1" height="1"/>
<rect x="1026" y="466" width="1" height="1"/>
<rect x="0" y="466" width="1" height="1"/>
<rect x="1026" y="476" width="1" height="1"/>
<rect x="0" y="476" width="1" height="1"/>
<rect x="1026" y="485" width="1" height="1"/>
<rect x="0" y="485" width="1" height="1"/>
<rect x="1026" y="494" width="2" height="1"/>
<rect x="0" y="494" width="1" height="1"/>
<rect x="1026" y="503" width="1" height="1"/>
<rect x="0" y="503" width="1" height="1"/>
<rect x="1026" y="512" width="1" height="1"/>
<rect x="0" y="512" width="1" height="1"/>
<rect x="1026" y="522" width="1" height="1"/>
<rect x="0" y="522" width="1" height="1"/>
<rect x="1026" y="531" width="1" height="1"/>
<rect x="0" y="531" width="1" height="1"/>
<rect x="0" y="540" width="1" height="1" fill="#c4c4c4"/>
<rect x="10" y="545" width="1" height="4"/>
<rect x="49" y="545" width="1" height="4"/>
<rect x="99" y="545" width="1" height="4"/>
<rect x="149" y="545" width="1" height="4"/>
<rect x="199" y="545" width="1" height="4"/>
<rect x="250" y="545" width="1" height="4"/>
<rect x="300" y="545" width="1" height="4"/>
<rect x="350" y="545" width="1" height="4"/>
<rect x="400" y="545" width="1" height="4"/>
<rect x="451" y="545" width="1" height="4"/>
<rect x="501" y="545" width="1" height="4"/>
<rect x="551" y="545" width="1" height="4"/>
<rect x="601" y="545" width="1" height="4"/>
<rect x="652" y="545" width="1" height="4"/>
<rect x="702" y="545" width="1" height="4"/>
<rect x="752" y="545" width="1" height="4"/>
<rect x="806" y="545" width="1" height="4"/>
<rect x="853" y="545" width="1" height="4"/>
<rect x="903" y="545" width="1" height="4"/>
<rect x="957" y="545" width="1" height="4"/>
<rect x="1007" y="545" width="1" height="4"/>
</g>
<polyline points="11.0,47.0 13.0,58.0 15.2,67.3 19.8,88.3 23.3,102.3 26.8,121.0 30.3,135.0 32.2,140.0 36.0,150.5 40.5,161.0 44.2,167.7 49.5,172.2 54.7,180.5 60.7,188.7 65.2,191.7 69.0,198.5 75.0,204.5 81.0,208.2 87.0,211.2 93.0,216.5 99.0,223.5 108.3,232.5 117.0,238.0 122.0,238.6 126.7,240.0 133.3,243.3 145.0,243.3 150.0,240.0 158.3,232.5 164.0,231.5 180.0,230.5 196.0,230.5 212.7,234.0 222.7,234.0 234.3,238.0 242.7,237.5 252.0,232.0 261.0,229.0 270.0,232.0 280.0,236.7 287.3,240.0 304.0,245.0 318.0,250.5 325.3,255.0 343.7,268.3 350.0,271.3 360.0,274.2 371.7,275.8 380.0,278.3 390.0,284.7 401.7,287.5 410.0,287.3 416.7,285.8 424.0,283.0 433.3,271.7 443.3,261.7 454.0,248.3 457.3,243.3 470.7,234.0 478.0,233.3 482.0,232.0 489.2,234.0 494.2,238.0 500.0,240.8 503.7,242.8 508.3,243.7 512.8,247.3 518.3,254.7 523.0,263.0 527.5,271.2 534.0,279.4 539.4,287.7 545.0,298.7 550.5,308.8 555.0,314.3 559.6,318.0 563.3,319.8 568.0,324.4 573.4,332.7 579.5,340.0 586.2,348.3 592.0,351.3 596.0,351.3 602.0,353.3 607.0,353.0 612.0,352.0 616.7,350.8 623.3,355.0 630.0,355.8 634.0,357.0 644.7,361.7 653.0,368.3 661.3,375.8 670.0,380.0 677.7,385.0 695.2,401.7 701.8,405.0 710.0,410.5 720.7,413.3 730.7,412.5 748.0,412.5 755.0,415.0 767.0,416.7 780.3,419.7 793.3,423.3 800.0,426.0 810.0,428.3 818.3,426.7 824.0,426.3 841.3,425.8 844.7,424.5 851.3,425.8 856.3,427.5 864.0,431.3 870.0,432.4 880.3,432.5 888.7,434.2 898.7,438.3 916.0,438.3 921.7,438.3 926.7,437.0 935.0,437.0 943.3,438.3 948.3,439.2 965.0,439.4 978.0,438.3 987.0,438.6 994.0,440.3 1002.0,441.5 1008.0,442.2 1015.6,442.4" fill="none" stroke="#aa2222" stroke-width="1" shape-rendering="crispEdges"/>
<rect x="10" y="31" width="46" height="17" fill="#fff"/>
<rect x="10" y="51" width="49" height="18" fill="#fff"/>
<g filter="url(#al)">
<text x="1030.5" y="36" font-size="13" letter-spacing="0.6" fill="#000">38</text>
<text x="1030.5" y="82" font-size="13" letter-spacing="0.6" fill="#000">36</text>
<text x="1030.5" y="129" font-size="13" letter-spacing="0.6" fill="#000">34</text>
<text x="1030.5" y="175" font-size="13" letter-spacing="0.6" fill="#000">32</text>
<text x="1030.5" y="221" font-size="13" letter-spacing="0.6" fill="#000">30</text>
<text x="1030.5" y="267" font-size="13" letter-spacing="0.6" fill="#000">28</text>
<text x="1030.5" y="314" font-size="13" letter-spacing="0.6" fill="#000">26</text>
<text x="1030.5" y="360" font-size="13" letter-spacing="0.6" fill="#000">24</text>
<text x="1030.5" y="406" font-size="13" letter-spacing="0.6" fill="#000">22</text>
<text x="1030.5" y="453" font-size="13" letter-spacing="0.6" fill="#000">20</text>
<text x="1030.5" y="499" font-size="13" letter-spacing="0.6" fill="#000">18</text>
<text x="51.3" y="562" font-size="13" letter-spacing="0.6" fill="#000" text-anchor="middle">Apr</text>
<text x="101.5" y="562" font-size="13" letter-spacing="0.6" fill="#000" text-anchor="middle">Jul</text>
<text x="151.3" y="562" font-size="13" letter-spacing="0.6" fill="#000" text-anchor="middle">Oct</text>
<text x="201.5" y="562" font-size="13" letter-spacing="0.6" fill="#000" text-anchor="middle">2010</text>
<text x="252.3" y="562" font-size="13" letter-spacing="0.6" fill="#000" text-anchor="middle">Apr</text>
<text x="302.0" y="562" font-size="13" letter-spacing="0.6" fill="#000" text-anchor="middle">Jul</text>
<text x="352.3" y="562" font-size="13" letter-spacing="0.6" fill="#000" text-anchor="middle">Oct</text>
<text x="402.5" y="562" font-size="13" letter-spacing="0.6" fill="#000" text-anchor="middle">2011</text>
<text x="453.3" y="562" font-size="13" letter-spacing="0.6" fill="#000" text-anchor="middle">Apr</text>
<text x="503.6" y="562" font-size="13" letter-spacing="0.6" fill="#000" text-anchor="middle">Jul</text>
<text x="553.3" y="562" font-size="13" letter-spacing="0.6" fill="#000" text-anchor="middle">Oct</text>
<text x="603.5999999999999" y="562" font-size="13" letter-spacing="0.6" fill="#000" text-anchor="middle">2012</text>
<text x="654.3" y="562" font-size="13" letter-spacing="0.6" fill="#000" text-anchor="middle">Apr</text>
<text x="704.5999999999999" y="562" font-size="13" letter-spacing="0.6" fill="#000" text-anchor="middle">Jul</text>
<text x="754.3" y="562" font-size="13" letter-spacing="0.6" fill="#000" text-anchor="middle">Oct</text>
<text x="808.3" y="562" font-size="13" letter-spacing="0.6" fill="#000" text-anchor="middle">2013</text>
<text x="855.5" y="562" font-size="13" letter-spacing="0.6" fill="#000" text-anchor="middle">Apr</text>
<text x="905.4" y="562" font-size="13" letter-spacing="0.6" fill="#000" text-anchor="middle">Jul</text>
<text x="959.5" y="562" font-size="13" letter-spacing="0.6" fill="#000" text-anchor="middle">Oct</text>
<text x="1009.0999999999999" y="562" font-size="13" letter-spacing="0.6" fill="#000" text-anchor="middle">2014</text>
<text x="10" y="21" font-size="17" fill="#000" textLength="494" lengthAdjust="spacing">Canadian Oil Sands Trust (CN) (COS CN EQUITY) 20.37 <tspan fill="#0000ff">0.08</tspan></text>
<text x="795.5" y="20" font-size="17" fill="#000" textLength="242.5" lengthAdjust="spacing"><tspan fill="#0000ff">www.ftmoney.com</tspan> 2014-01-21</text>
<text x="10.3" y="45" font-size="15.4" fill="#0000dd" textLength="46" lengthAdjust="spacingAndGlyphs">Weekly</text>
<text x="10.5" y="65" font-size="15.4" fill="#aa2222" textLength="47" lengthAdjust="spacingAndGlyphs">MA 200</text>
<text x="654.5" y="590" font-size="11.2" fill="#8c8c8c" textLength="348" lengthAdjust="spacing">This website is © 2008-2014 FT Money plc. All rights reserved.</text>
</g>
</svg></body></html>
